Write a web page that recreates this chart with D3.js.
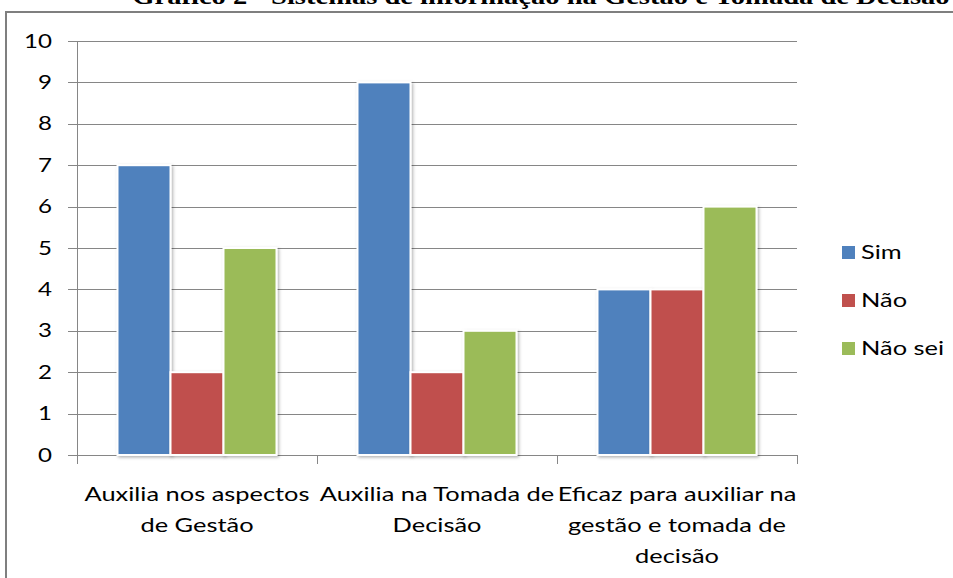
<!DOCTYPE html>
<html><head><meta charset="utf-8">
<script src="https://cdn.jsdelivr.net/npm/d3@7"></script>
<style>html,body{margin:0;padding:0;background:#fff;overflow:hidden}</style>
</head><body>
<svg id="c" width="953" height="578"></svg>
<script>
const categories = [["Auxilia nos aspectos","de Gestão"],["Auxilia na Tomada de","Decisão"],["Eficaz para auxiliar na","gestão e tomada de","decisão"]];
const seriesNames = ["Sim","Não","Não sei"];
const sim = [7,9,4];
const nao = [2,2,4];
const naoSei = [5,3,6];
const colors = ["#4F81BD","#C0504D","#9BBB59"];
const yTicks = [0,1,2,3,4,5,6,7,8,9,10];
const title = "Gráfico 2 - Sistemas de informação na Gestão e Tomada de Decisão";

const values = [sim, nao, naoSei];
const svg = d3.select("#c");
const font = "Lato, 'Open Sans', sans-serif";
const SX = 1.27; // horizontal stretch of the original image text

function stext(parent, x, y, s, anchor, size, str, family, weight){
  return parent.append("text")
    .attr("transform", `translate(${x},${y}) scale(${s},1)`)
    .attr("x",0).attr("y",0).attr("text-anchor",anchor)
    .attr("font-family",family||font).attr("font-weight",weight||"normal")
    .attr("font-size",size).attr("fill","#000").text(str);
}

const defs = svg.append("defs");
const f = defs.append("filter").attr("id","sh").attr("x","-20%").attr("y","-5%").attr("width","150%").attr("height","120%");
f.append("feDropShadow").attr("dx",1.5).attr("dy",1.5).attr("stdDeviation",1.5).attr("flood-color","#000").attr("flood-opacity",0.3);

// title (cut off at top, as in the reference)
stext(svg, 541, 4, 1.19, "middle", 24, title, "'Liberation Serif','Times New Roman',serif", "bold");

// frame
svg.append("rect").attr("x",6).attr("y",12).attr("width",1000).attr("height",700)
  .attr("fill","none").attr("stroke","#7f7f7f").attr("stroke-width",2);

const x0 = d3.scaleBand().domain(d3.range(categories.length)).range([77,797]);
const x1 = d3.scaleBand().domain(d3.range(seriesNames.length)).range([40.5, x0.bandwidth()-40.5]);
const y = d3.scaleLinear().domain([0,10]).range([455,41]);

// gridlines
svg.append("g").selectAll("line").data(yTicks).join("line")
  .attr("x1",68).attr("x2",797).attr("y1",d=>Math.round(y(d))+0.5).attr("y2",d=>Math.round(y(d))+0.5)
  .attr("stroke","#868686").attr("stroke-width",1);

// y axis line
svg.append("line").attr("x1",77.5).attr("x2",77.5).attr("y1",y(10)).attr("y2",455.5).attr("stroke","#868686");
// category ticks
svg.append("g").selectAll("line").data(d3.range(categories.length+1)).join("line")
  .attr("x1",d=>Math.round(77+d*x0.bandwidth())+0.5).attr("x2",d=>Math.round(77+d*x0.bandwidth())+0.5)
  .attr("y1",455).attr("y2",464).attr("stroke","#868686");

// y labels
const yl = svg.append("g");
yTicks.forEach(d=>{
  stext(yl, 52, y(d)+6.5, SX, "end", 19, d);
});

// bars
const g = svg.append("g");
categories.forEach((c,ci)=>{
  values.forEach((vals,si)=>{
    g.append("rect")
      .attr("x",x0(ci)+x1(si)).attr("y",y(vals[ci]))
      .attr("width",x1.bandwidth()).attr("height",y(0)-y(vals[ci]))
      .attr("fill",colors[si]).attr("stroke","#fff").attr("stroke-width",2)
      .attr("filter","url(#sh)");
  });
});

// category labels
const cl = svg.append("g");
categories.forEach((lines,ci)=>{
  lines.forEach((l,li)=>{
    stext(cl, x0(ci)+x0.bandwidth()/2, 501+li*31, SX, "middle", 20, l);
  });
});

// legend
const leg = svg.append("g");
seriesNames.forEach((s,i)=>{
  const cy = 252 + i*48;
  leg.append("rect").attr("x",842).attr("y",cy-6).attr("width",13).attr("height",13).attr("fill",colors[i]);
  stext(leg, 861, cy+7, SX, "start", 20, s);
});
</script>
</body></html>
